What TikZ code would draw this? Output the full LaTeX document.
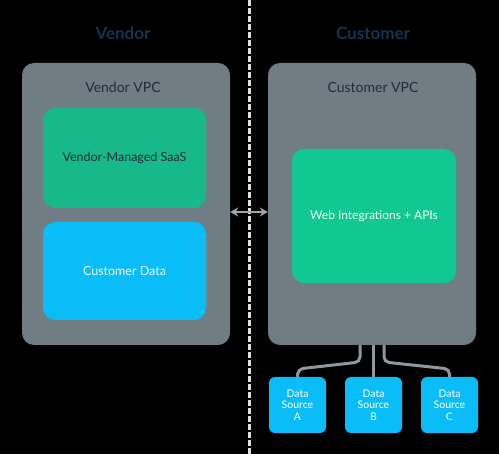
\documentclass[tikz,border=0pt]{standalone}
\usepackage{fontspec}
\setmainfont{Lato}
\usetikzlibrary{arrows.meta}
\definecolor{bg}{HTML}{000000}
\definecolor{vpcgray}{HTML}{717D84}
\definecolor{titleblue}{HTML}{12344F}
\definecolor{navy}{HTML}{1C2E3E}
\definecolor{saasgreen}{HTML}{17B98A}
\definecolor{webgreen}{HTML}{12C892}
\definecolor{dblue}{HTML}{0ABDF7}
\definecolor{lineg}{HTML}{8E989E}
\begin{document}
\begin{tikzpicture}[x=1pt,y=-1pt,
  vpc/.style={fill=vpcgray, rounded corners=12pt, draw=none},
  inner/.style={rounded corners=12pt, draw=none, align=center},
  dsrc/.style={fill=dblue, rounded corners=6pt, draw=none, minimum width=57pt, minimum height=56pt, inner sep=0pt, align=center, text=white, font=\fontsize{10.5}{11.5}\selectfont},
  ttl/.style={text=titleblue, font=\fontsize{17}{20}\selectfont\bfseries},
  vpclbl/.style={text=navy, font=\fontsize{14}{16}\selectfont},
  conn/.style={draw=lineg, line width=3pt, rounded corners=5pt}
]
\fill[bg] (0,0) rectangle (499,454);
\useasboundingbox (0,0) rectangle (499,454);
% divider
\coordinate (dtop) at (249,0);
\coordinate (dbot) at (249,454);
\draw[draw=white!75!gray, line width=3pt, dash pattern=on 6pt off 2pt] (dtop) -- (dbot);
% titles
\node[ttl] (tv) at (123,33) {Vendor};
\node[ttl] (tc) at (373,33) {Customer};
% VPC boxes
\node[vpc, minimum width=208pt, minimum height=282pt, inner sep=0pt] (vvpc) at (126,204) {};
\node[vpc, minimum width=208pt, minimum height=282pt, inner sep=0pt] (cvpc) at (372,204) {};
\node[vpclbl] (vl) at (123,87) {Vendor VPC};
\node[vpclbl] (cl) at (373,87) {Customer VPC};
% inner boxes
\node[inner, fill=saasgreen, minimum width=163pt, minimum height=100pt, inner sep=0pt, text=navy, font=\fontsize{12.5}{14}\selectfont] (saas) at (124.5,158) {Vendor-Managed SaaS};
\node[inner, fill=dblue, minimum width=163pt, minimum height=98pt, inner sep=0pt, text=white!92!cyan, font=\fontsize{12.5}{14}\selectfont] (cdata) at (124.5,271) {Customer Data};
\node[inner, fill=webgreen, minimum width=164pt, minimum height=134pt, inner sep=0pt, text=white!92!green, font=\fontsize{12}{14}\selectfont] (web) at (374,216) {Web Integrations + APIs};
% double arrow
\draw[draw=lineg!85!white, line width=1.5pt, {Stealth[length=8pt,width=9pt]}-{Stealth[length=8pt,width=9pt]}] (vvpc.east |- 0,212) -- (cvpc.west |- 0,212);
% data sources
\node[dsrc] (da) at (297.5,405) {Data\\Source\\A};
\node[dsrc] (db) at (373.5,405) {Data\\Source\\B};
\node[dsrc] (dc) at (449.5,405) {Data\\Source\\C};
% connectors
\draw[conn] (cvpc.south -| 360,0) -- (360,362) -- (298,369) -- (da.north);
\draw[conn] (cvpc.south -| 373.5,0) -- (db.north);
\draw[conn] (cvpc.south -| 384,0) -- (384,362) -- (449.5,369) -- (dc.north);
\end{tikzpicture}
\end{document}
